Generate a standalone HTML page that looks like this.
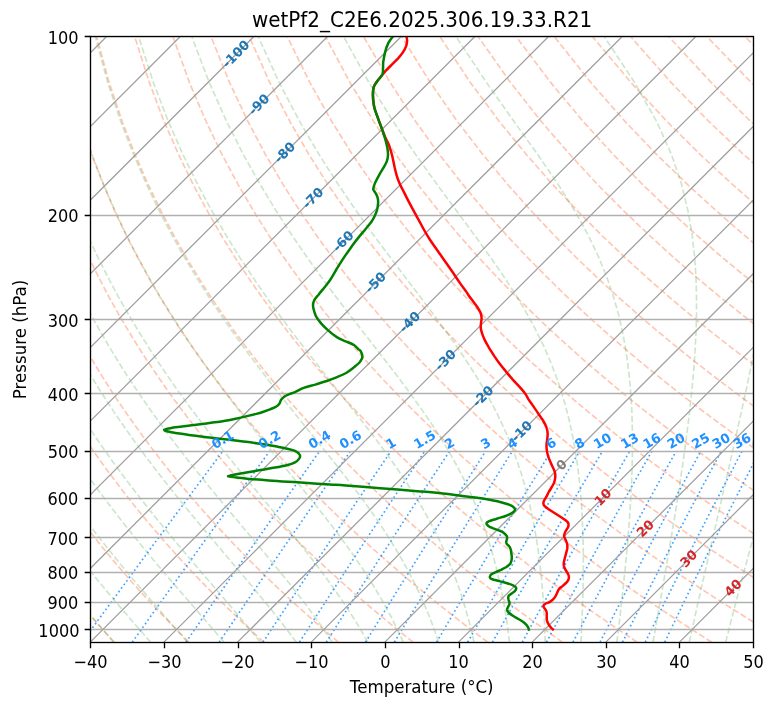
<!DOCTYPE html>
<html><head><meta charset="utf-8"><title>wetPf2_C2E6.2025.306.19.33.R21</title>
<style>html,body{margin:0;padding:0;background:#fff}svg{display:block}</style></head>
<body>
<svg width="775" height="708" viewBox="0 0 775 708">
<defs><clipPath id="c"><rect x="90.25" y="36.80" width="662.90" height="605.36"/></clipPath></defs>
<rect width="775" height="708" fill="#fff"/>
<g clip-path="url(#c)" fill="none">
<path d="M114.4 642.2L109.9 637.4L105.4 632.5L100.9 627.5L96.4 622.4L91.8 617.2L87.1 611.9L82.5 606.5L77.8 601.0L73.0 595.4L68.3 589.6L63.4 583.7L58.6 577.7L53.7 571.5L48.7 565.2L43.7 558.7L38.7 552.0L33.6 545.2L28.5 538.1L23.4 530.9L18.2 523.5L12.9 515.9L7.6 508.0L2.2 499.8L-3.1 491.4L-8.6 482.8L-14.1 473.8L-19.6 464.5L-25.2 454.8L-30.8 444.8L-36.5 434.3L-42.2 423.4L-48.0 412.1L-53.8 400.2L-59.6 387.7L-65.4 374.6L-71.3 360.8L-77.2 346.2L-83.1 330.8L-88.9 314.3L-94.7 296.8L-100.4 277.9L-106.0 257.6L-111.5 235.5L-116.7 211.3L-121.5 184.6L-125.8 154.8L-129.3 121.2L-131.6 82.4L-132.2 36.8M189.0 642.2L184.2 637.4L179.3 632.5L174.4 627.5L169.4 622.4L164.4 617.2L159.4 611.9L154.3 606.5L149.1 601.0L143.9 595.4L138.7 589.6L133.4 583.7L128.1 577.7L122.7 571.5L117.3 565.2L111.8 558.7L106.3 552.0L100.7 545.2L95.1 538.1L89.4 530.9L83.6 523.5L77.8 515.9L72.0 508.0L66.0 499.8L60.0 491.4L54.0 482.8L47.9 473.8L41.7 464.5L35.5 454.8L29.2 444.8L22.8 434.3L16.4 423.4L9.9 412.1L3.3 400.2L-3.3 387.7L-9.9 374.6L-16.7 360.8L-23.4 346.2L-30.2 330.8L-37.0 314.3L-43.8 296.8L-50.6 277.9L-57.3 257.6L-63.9 235.5L-70.4 211.3L-76.5 184.6L-82.3 154.8L-87.4 121.2L-91.5 82.4L-94.1 36.8M263.7 642.2L258.5 637.4L253.2 632.5L247.9 627.5L242.5 622.4L237.1 617.2L231.6 611.9L226.1 606.5L220.5 601.0L214.9 595.4L209.2 589.6L203.4 583.7L197.6 577.7L191.8 571.5L185.9 565.2L179.9 558.7L173.9 552.0L167.8 545.2L161.6 538.1L155.4 530.9L149.1 523.5L142.7 515.9L136.3 508.0L129.8 499.8L123.2 491.4L116.6 482.8L109.8 473.8L103.0 464.5L96.1 454.8L89.2 444.8L82.1 434.3L75.0 423.4L67.7 412.1L60.4 400.2L53.0 387.7L45.6 374.6L38.0 360.8L30.4 346.2L22.7 330.8L14.9 314.3L7.1 296.8L-0.7 277.9L-8.6 257.6L-16.4 235.5L-24.1 211.3L-31.6 184.6L-38.8 154.8L-45.5 121.2L-51.4 82.4L-55.9 36.8M338.4 642.2L332.8 637.4L327.1 632.5L321.4 627.5L315.6 622.4L309.7 617.2L303.8 611.9L297.9 606.5L291.8 601.0L285.8 595.4L279.6 589.6L273.4 583.7L267.2 577.7L260.8 571.5L254.4 565.2L248.0 558.7L241.5 552.0L234.8 545.2L228.2 538.1L221.4 530.9L214.6 523.5L207.7 515.9L200.7 508.0L193.6 499.8L186.4 491.4L179.1 482.8L171.8 473.8L164.3 464.5L156.8 454.8L149.2 444.8L141.4 434.3L133.6 423.4L125.6 412.1L117.5 400.2L109.3 387.7L101.1 374.6L92.7 360.8L84.2 346.2L75.5 330.8L66.8 314.3L58.0 296.8L49.1 277.9L40.2 257.6L31.2 235.5L22.3 211.3L13.4 184.6L4.7 154.8L-3.6 121.2L-11.2 82.4L-17.8 36.8M413.1 642.2L407.1 637.4L401.0 632.5L394.8 627.5L388.6 622.4L382.4 617.2L376.0 611.9L369.6 606.5L363.2 601.0L356.7 595.4L350.1 589.6L343.4 583.7L336.7 577.7L329.9 571.5L323.0 565.2L316.1 558.7L309.0 552.0L301.9 545.2L294.7 538.1L287.4 530.9L280.1 523.5L272.6 515.9L265.0 508.0L257.4 499.8L249.6 491.4L241.7 482.8L233.8 473.8L225.7 464.5L217.5 454.8L209.1 444.8L200.7 434.3L192.1 423.4L183.5 412.1L174.6 400.2L165.7 387.7L156.6 374.6L147.3 360.8L137.9 346.2L128.4 330.8L118.7 314.3L108.9 296.8L99.0 277.9L88.9 257.6L78.8 235.5L68.6 211.3L58.3 184.6L48.2 154.8L38.3 121.2L28.9 82.4L20.4 36.8M487.8 642.2L481.4 637.4L474.9 632.5L468.3 627.5L461.7 622.4L455.0 617.2L448.3 611.9L441.4 606.5L434.5 601.0L427.6 595.4L420.5 589.6L413.4 583.7L406.2 577.7L399.0 571.5L391.6 565.2L384.1 558.7L376.6 552.0L369.0 545.2L361.3 538.1L353.4 530.9L345.5 523.5L337.5 515.9L329.4 508.0L321.1 499.8L312.8 491.4L304.3 482.8L295.7 473.8L287.0 464.5L278.1 454.8L269.1 444.8L260.0 434.3L250.7 423.4L241.3 412.1L231.7 400.2L222.0 387.7L212.1 374.6L202.0 360.8L191.7 346.2L181.3 330.8L170.6 314.3L159.8 296.8L148.8 277.9L137.7 257.6L126.3 235.5L114.9 211.3L103.3 184.6L91.7 154.8L80.2 121.2L69.0 82.4L58.5 36.8M562.5 642.2L555.7 637.4L548.8 632.5L541.8 627.5L534.8 622.4L527.7 617.2L520.5 611.9L513.2 606.5L505.9 601.0L498.5 595.4L491.0 589.6L483.4 583.7L475.8 577.7L468.0 571.5L460.2 565.2L452.2 558.7L444.2 552.0L436.0 545.2L427.8 538.1L419.5 530.9L411.0 523.5L402.4 515.9L393.7 508.0L384.9 499.8L376.0 491.4L366.9 482.8L357.7 473.8L348.3 464.5L338.8 454.8L329.1 444.8L319.3 434.3L309.3 423.4L299.2 412.1L288.8 400.2L278.3 387.7L267.6 374.6L256.6 360.8L245.5 346.2L234.1 330.8L222.6 314.3L210.7 296.8L198.7 277.9L186.4 257.6L173.9 235.5L161.2 211.3L148.2 184.6L135.2 154.8L122.1 121.2L109.1 82.4L96.7 36.8M637.2 642.2L630.0 637.4L622.7 632.5L615.3 627.5L607.8 622.4L600.3 617.2L592.7 611.9L585.0 606.5L577.3 601.0L569.4 595.4L561.5 589.6L553.4 583.7L545.3 577.7L537.1 571.5L528.7 565.2L520.3 558.7L511.8 552.0L503.1 545.2L494.4 538.1L485.5 530.9L476.5 523.5L467.3 515.9L458.1 508.0L448.7 499.8L439.1 491.4L429.5 482.8L419.6 473.8L409.6 464.5L399.5 454.8L389.1 444.8L378.6 434.3L367.9 423.4L357.0 412.1L345.9 400.2L334.6 387.7L323.1 374.6L311.3 360.8L299.3 346.2L287.0 330.8L274.5 314.3L261.6 296.8L248.5 277.9L235.1 257.6L221.4 235.5L207.5 211.3L193.2 184.6L178.7 154.8L164.0 121.2L149.3 82.4L134.8 36.8M711.9 642.2L704.2 637.4L696.5 632.5L688.8 627.5L680.9 622.4L673.0 617.2L664.9 611.9L656.8 606.5L648.6 601.0L640.3 595.4L631.9 589.6L623.4 583.7L614.8 577.7L606.1 571.5L597.3 565.2L588.4 558.7L579.3 552.0L570.2 545.2L560.9 538.1L551.5 530.9L541.9 523.5L532.3 515.9L522.4 508.0L512.5 499.8L502.3 491.4L492.0 482.8L481.6 473.8L471.0 464.5L460.1 454.8L449.1 444.8L437.9 434.3L426.5 423.4L414.9 412.1L403.0 400.2L390.9 387.7L378.6 374.6L366.0 360.8L353.1 346.2L339.9 330.8L326.4 314.3L312.6 296.8L298.4 277.9L283.9 257.6L269.0 235.5L253.8 211.3L238.1 184.6L222.2 154.8L205.9 121.2L189.4 82.4L173.0 36.8M776.0 635.8L770.4 632.5L762.3 627.5L754.0 622.4L745.6 617.2L737.2 611.9L728.6 606.5L720.0 601.0L711.2 595.4L702.4 589.6L693.4 583.7L684.4 577.7L675.2 571.5L665.9 565.2L656.5 558.7L646.9 552.0L637.3 545.2L627.4 538.1L617.5 530.9L607.4 523.5L597.2 515.9L586.8 508.0L576.2 499.8L565.5 491.4L554.6 482.8L543.5 473.8L532.3 464.5L520.8 454.8L509.1 444.8L497.2 434.3L485.1 423.4L472.7 412.1L460.1 400.2L447.2 387.7L434.1 374.6L420.6 360.8L406.8 346.2L392.7 330.8L378.3 314.3L363.5 296.8L348.2 277.9L332.6 257.6L316.6 235.5L300.1 211.3L283.1 184.6L265.6 154.8L247.8 121.2L229.5 82.4L211.1 36.8M776.0 591.6L772.8 589.6L763.4 583.7L753.9 577.7L744.2 571.5L734.5 565.2L724.5 558.7L714.5 552.0L704.3 545.2L694.0 538.1L683.5 530.9L672.9 523.5L662.1 515.9L651.1 508.0L640.0 499.8L628.7 491.4L617.2 482.8L605.5 473.8L593.6 464.5L581.5 454.8L569.1 444.8L556.5 434.3L543.7 423.4L530.6 412.1L517.2 400.2L503.6 387.7L489.6 374.6L475.3 360.8L460.6 346.2L445.6 330.8L430.2 314.3L414.4 296.8L398.1 277.9L381.4 257.6L364.1 235.5L346.4 211.3L328.0 184.6L309.1 154.8L289.7 121.2L269.7 82.4L249.3 36.8M776.0 548.1L771.4 545.2L760.5 538.1L749.5 530.9L738.4 523.5L727.0 515.9L715.5 508.0L703.8 499.8L691.9 491.4L679.8 482.8L667.5 473.8L654.9 464.5L642.1 454.8L629.1 444.8L615.8 434.3L602.3 423.4L588.5 412.1L574.3 400.2L559.9 387.7L545.1 374.6L529.9 360.8L514.4 346.2L498.5 330.8L482.1 314.3L465.3 296.8L448.0 277.9L430.1 257.6L411.7 235.5L392.7 211.3L373.0 184.6L352.6 154.8L331.6 121.2L309.8 82.4L287.4 36.8M776.0 505.4L767.6 499.8L755.1 491.4L742.4 482.8L729.4 473.8L716.2 464.5L702.8 454.8L689.1 444.8L675.1 434.3L660.9 423.4L646.3 412.1L631.4 400.2L616.2 387.7L600.6 374.6L584.6 360.8L568.2 346.2L551.3 330.8L534.0 314.3L516.2 296.8L497.8 277.9L478.8 257.6L459.2 235.5L439.0 211.3L417.9 184.6L396.1 154.8L373.5 121.2L349.9 82.4L325.6 36.8M776.0 463.4L763.5 454.8L749.1 444.8L734.4 434.3L719.5 423.4L704.2 412.1L688.5 400.2L672.5 387.7L656.1 374.6L639.2 360.8L622.0 346.2L604.2 330.8L585.9 314.3L567.1 296.8L547.7 277.9L527.6 257.6L506.8 235.5L485.3 211.3L462.9 184.6L439.6 154.8L415.4 121.2L390.1 82.4L363.7 36.8M776.0 422.0L762.0 412.1L745.6 400.2L728.8 387.7L711.6 374.6L693.9 360.8L675.7 346.2L657.1 330.8L637.8 314.3L618.0 296.8L597.5 277.9L576.3 257.6L554.4 235.5L531.6 211.3L507.8 184.6L483.1 154.8L457.2 121.2L430.2 82.4L401.9 36.8M776.0 381.1L767.1 374.6L748.6 360.8L729.5 346.2L709.9 330.8L689.7 314.3L668.9 296.8L647.4 277.9L625.1 257.6L601.9 235.5L577.9 211.3L552.8 184.6L526.6 154.8L499.1 121.2L470.3 82.4L440.0 36.8M776.0 340.7L762.8 330.8L741.7 314.3L719.8 296.8L697.2 277.9L673.8 257.6L649.5 235.5L624.2 211.3L597.7 184.6L570.1 154.8L541.0 121.2L510.5 82.4L478.2 36.8M776.0 300.8L770.7 296.8L747.1 277.9L722.5 257.6L697.0 235.5L670.5 211.3L642.7 184.6L613.6 154.8L582.9 121.2L550.6 82.4L516.3 36.8M776.0 261.3L771.3 257.6L744.6 235.5L716.8 211.3L687.6 184.6L657.0 154.8L624.8 121.2L590.7 82.4L554.5 36.8M776.0 222.0L763.1 211.3L732.6 184.6L700.5 154.8L666.7 121.2L630.9 82.4L592.6 36.8M776.0 183.2L744.0 154.8L708.6 121.2L671.0 82.4L630.8 36.8M776.0 144.4L750.5 121.2L711.1 82.4L668.9 36.8M776.0 105.7L751.2 82.4L707.1 36.8M776.0 67.2L745.2 36.8" stroke="#ff4500" stroke-opacity="0.3" stroke-width="1.67" stroke-dasharray="6.17 2.67"/>
<path d="M113.7 642.2L109.5 637.4L105.3 632.5L101.0 627.5L96.7 622.4L92.3 617.2L87.8 611.9L83.3 606.5L78.7 601.0L74.1 595.4L69.5 589.6L64.7 583.7L60.0 577.7L55.1 571.5L50.3 565.2L45.3 558.7L40.4 552.0L35.3 545.2L30.2 538.1L25.1 530.9L19.9 523.5L14.7 515.9L9.4 508.0L4.0 499.8L-1.4 491.4L-6.8 482.8L-12.3 473.8L-17.9 464.5L-23.5 454.8L-29.1 444.8L-34.8 434.3L-40.5 423.4L-46.3 412.1L-52.1 400.2L-58.0 387.7L-63.9 374.6L-69.7 360.8L-75.6 346.2L-81.5 330.8L-87.4 314.3L-93.2 296.8L-99.0 277.9L-104.6 257.6L-110.1 235.5L-115.3 211.3L-120.2 184.6L-124.5 154.8L-128.1 121.2L-130.5 82.4L-131.1 36.8M150.7 642.2L146.4 637.4L142.2 632.5L137.8 627.5L133.4 622.4L128.9 617.2L124.3 611.9L119.7 606.5L115.0 601.0L110.3 595.4L105.5 589.6L100.6 583.7L95.6 577.7L90.6 571.5L85.5 565.2L80.4 558.7L75.2 552.0L69.9 545.2L64.6 538.1L59.2 530.9L53.8 523.5L48.3 515.9L42.7 508.0L37.1 499.8L31.4 491.4L25.6 482.8L19.8 473.8L14.0 464.5L8.0 454.8L2.0 444.8L-4.0 434.3L-10.1 423.4L-16.3 412.1L-22.5 400.2L-28.7 387.7L-35.0 374.6L-41.4 360.8L-47.7 346.2L-54.1 330.8L-60.4 314.3L-66.8 296.8L-73.1 277.9L-79.3 257.6L-85.4 235.5L-91.3 211.3L-96.8 184.6L-101.9 154.8L-106.3 121.2L-109.6 82.4L-111.3 36.8M187.4 642.2L183.3 637.4L179.0 632.5L174.6 627.5L170.2 622.4L165.7 617.2L161.1 611.9L156.4 606.5L151.6 601.0L146.8 595.4L141.8 589.6L136.8 583.7L131.7 577.7L126.6 571.5L121.3 565.2L116.0 558.7L110.6 552.0L105.2 545.2L99.6 538.1L94.0 530.9L88.3 523.5L82.5 515.9L76.7 508.0L70.8 499.8L64.8 491.4L58.8 482.8L52.6 473.8L46.4 464.5L40.2 454.8L33.8 444.8L27.4 434.3L21.0 423.4L14.4 412.1L7.8 400.2L1.2 387.7L-5.6 374.6L-12.3 360.8L-19.2 346.2L-26.0 330.8L-32.9 314.3L-39.8 296.8L-46.6 277.9L-53.5 257.6L-60.2 235.5L-66.7 211.3L-73.0 184.6L-78.8 154.8L-84.1 121.2L-88.3 82.4L-91.0 36.8M224.0 642.2L219.9 637.4L215.8 632.5L211.5 627.5L207.1 622.4L202.6 617.2L198.0 611.9L193.4 606.5L188.6 601.0L183.7 595.4L178.7 589.6L173.7 583.7L168.5 577.7L163.2 571.5L157.9 565.2L152.4 558.7L146.9 552.0L141.2 545.2L135.5 538.1L129.7 530.9L123.8 523.5L117.8 515.9L111.7 508.0L105.5 499.8L99.2 491.4L92.9 482.8L86.4 473.8L79.9 464.5L73.3 454.8L66.6 444.8L59.9 434.3L53.0 423.4L46.1 412.1L39.1 400.2L32.0 387.7L24.8 374.6L17.6 360.8L10.3 346.2L2.9 330.8L-4.5 314.3L-11.9 296.8L-19.4 277.9L-26.8 257.6L-34.1 235.5L-41.4 211.3L-48.4 184.6L-55.0 154.8L-61.1 121.2L-66.4 82.4L-70.2 36.8M260.4 642.2L256.5 637.4L252.5 632.5L248.4 627.5L244.2 622.4L239.8 617.2L235.4 611.9L230.8 606.5L226.1 601.0L221.3 595.4L216.3 589.6L211.3 583.7L206.1 577.7L200.8 571.5L195.4 565.2L189.9 558.7L184.2 552.0L178.5 545.2L172.6 538.1L166.6 530.9L160.5 523.5L154.3 515.9L148.0 508.0L141.6 499.8L135.0 491.4L128.4 482.8L121.7 473.8L114.8 464.5L107.9 454.8L100.8 444.8L93.7 434.3L86.5 423.4L79.1 412.1L71.7 400.2L64.1 387.7L56.5 374.6L48.8 360.8L41.0 346.2L33.1 330.8L25.2 314.3L17.2 296.8L9.1 277.9L1.1 257.6L-6.9 235.5L-14.9 211.3L-22.7 184.6L-30.2 154.8L-37.2 121.2L-43.4 82.4L-48.4 36.8M296.4 642.2L292.8 637.4L289.1 632.5L285.3 627.5L281.4 622.4L277.3 617.2L273.1 611.9L268.7 606.5L264.2 601.0L259.6 595.4L254.8 589.6L249.9 583.7L244.8 577.7L239.6 571.5L234.2 565.2L228.7 558.7L223.1 552.0L217.3 545.2L211.3 538.1L205.2 530.9L199.0 523.5L192.7 515.9L186.2 508.0L179.5 499.8L172.8 491.4L165.9 482.8L158.9 473.8L151.7 464.5L144.4 454.8L137.0 444.8L129.5 434.3L121.9 423.4L114.1 412.1L106.3 400.2L98.3 387.7L90.2 374.6L82.0 360.8L73.6 346.2L65.2 330.8L56.7 314.3L48.1 296.8L39.4 277.9L30.7 257.6L21.9 235.5L13.2 211.3L4.6 184.6L-3.8 154.8L-11.8 121.2L-19.1 82.4L-25.2 36.8M332.2 642.2L329.0 637.4L325.7 632.5L322.3 627.5L318.7 622.4L315.0 617.2L311.2 611.9L307.2 606.5L303.0 601.0L298.7 595.4L294.2 589.6L289.6 583.7L284.7 577.7L279.7 571.5L274.6 565.2L269.2 558.7L263.7 552.0L258.0 545.2L252.1 538.1L246.0 530.9L239.8 523.5L233.4 515.9L226.8 508.0L220.0 499.8L213.1 491.4L206.0 482.8L198.8 473.8L191.3 464.5L183.8 454.8L176.0 444.8L168.2 434.3L160.1 423.4L151.9 412.1L143.6 400.2L135.1 387.7L126.5 374.6L117.8 360.8L108.9 346.2L99.9 330.8L90.7 314.3L81.5 296.8L72.1 277.9L62.6 257.6L53.1 235.5L43.6 211.3L34.1 184.6L24.8 154.8L15.7 121.2L7.3 82.4L-0.2 36.8M367.8 642.2L365.1 637.4L362.3 632.5L359.3 627.5L356.3 622.4L353.0 617.2L349.7 611.9L346.2 606.5L342.5 601.0L338.6 595.4L334.6 589.6L330.4 583.7L326.0 577.7L321.4 571.5L316.6 565.2L311.6 558.7L306.4 552.0L301.0 545.2L295.3 538.1L289.5 530.9L283.4 523.5L277.1 515.9L270.6 508.0L263.8 499.8L256.8 491.4L249.6 482.8L242.2 473.8L234.6 464.5L226.8 454.8L218.8 444.8L210.6 434.3L202.2 423.4L193.6 412.1L184.8 400.2L175.8 387.7L166.7 374.6L157.4 360.8L147.9 346.2L138.2 330.8L128.4 314.3L118.4 296.8L108.3 277.9L98.0 257.6L87.6 235.5L77.2 211.3L66.7 184.6L56.3 154.8L46.1 121.2L36.4 82.4L27.5 36.8M403.2 642.2L401.1 637.4L398.8 632.5L396.4 627.5L393.9 622.4L391.3 617.2L388.5 611.9L385.5 606.5L382.5 601.0L379.2 595.4L375.8 589.6L372.2 583.7L368.4 577.7L364.4 571.5L360.2 565.2L355.8 558.7L351.1 552.0L346.2 545.2L341.1 538.1L335.7 530.9L330.0 523.5L324.1 515.9L317.9 508.0L311.4 499.8L304.6 491.4L297.5 482.8L290.2 473.8L282.5 464.5L274.6 454.8L266.5 444.8L258.0 434.3L249.3 423.4L240.3 412.1L231.1 400.2L221.7 387.7L212.0 374.6L202.1 360.8L191.9 346.2L181.6 330.8L171.0 314.3L160.2 296.8L149.2 277.9L138.1 257.6L126.7 235.5L115.2 211.3L103.7 184.6L92.1 154.8L80.6 121.2L69.4 82.4L58.9 36.8M438.6 642.2L437.0 637.4L435.3 632.5L433.5 627.5L431.6 622.4L429.6 617.2L427.4 611.9L425.2 606.5L422.8 601.0L420.2 595.4L417.6 589.6L414.7 583.7L411.7 577.7L408.5 571.5L405.0 565.2L401.4 558.7L397.5 552.0L393.4 545.2L389.1 538.1L384.4 530.9L379.5 523.5L374.3 515.9L368.7 508.0L362.9 499.8L356.6 491.4L350.1 482.8L343.1 473.8L335.8 464.5L328.1 454.8L320.1 444.8L311.6 434.3L302.8 423.4L293.7 412.1L284.2 400.2L274.3 387.7L264.2 374.6L253.7 360.8L242.9 346.2L231.8 330.8L220.4 314.3L208.7 296.8L196.8 277.9L184.6 257.6L172.1 235.5L159.4 211.3L146.6 184.6L133.6 154.8L120.6 121.2L107.7 82.4L95.3 36.8M474.0 642.2L472.9 637.4L471.8 632.5L470.6 627.5L469.3 622.4L467.9 617.2L466.4 611.9L464.8 606.5L463.2 601.0L461.4 595.4L459.5 589.6L457.4 583.7L455.3 577.7L452.9 571.5L450.4 565.2L447.7 558.7L444.8 552.0L441.7 545.2L438.4 538.1L434.8 530.9L430.9 523.5L426.8 515.9L422.3 508.0L417.5 499.8L412.3 491.4L406.7 482.8L400.7 473.8L394.3 464.5L387.4 454.8L380.0 444.8L372.1 434.3L363.7 423.4L354.9 412.1L345.5 400.2L335.5 387.7L325.1 374.6L314.3 360.8L302.9 346.2L291.1 330.8L278.9 314.3L266.3 296.8L253.3 277.9L239.9 257.6L226.2 235.5L212.1 211.3L197.7 184.6L183.1 154.8L168.2 121.2L153.3 82.4L138.7 36.8M509.5 642.2L508.9 637.4L508.3 632.5L507.6 627.5L506.9 622.4L506.1 617.2L505.3 611.9L504.4 606.5L503.4 601.0L502.3 595.4L501.2 589.6L500.0 583.7L498.6 577.7L497.2 571.5L495.6 565.2L493.9 558.7L492.0 552.0L490.0 545.2L487.8 538.1L485.4 530.9L482.8 523.5L480.0 515.9L476.8 508.0L473.4 499.8L469.7 491.4L465.6 482.8L461.1 473.8L456.2 464.5L450.8 454.8L444.8 444.8L438.4 434.3L431.3 423.4L423.5 412.1L415.1 400.2L406.0 387.7L396.1 374.6L385.5 360.8L374.2 346.2L362.1 330.8L349.4 314.3L335.9 296.8L321.9 277.9L307.3 257.6L292.1 235.5L276.4 211.3L260.2 184.6L243.5 154.8L226.5 121.2L209.2 82.4L191.8 36.8M545.1 642.2L545.0 637.4L544.8 632.5L544.7 627.5L544.5 622.4L544.2 617.2L543.9 611.9L543.6 606.5L543.3 601.0L542.9 595.4L542.4 589.6L541.9 583.7L541.4 577.7L540.7 571.5L540.0 565.2L539.2 558.7L538.4 552.0L537.4 545.2L536.3 538.1L535.0 530.9L533.7 523.5L532.1 515.9L530.4 508.0L528.5 499.8L526.4 491.4L524.0 482.8L521.3 473.8L518.2 464.5L514.8 454.8L511.0 444.8L506.7 434.3L501.8 423.4L496.3 412.1L490.1 400.2L483.1 387.7L475.2 374.6L466.4 360.8L456.5 346.2L445.5 330.8L433.4 314.3L420.2 296.8L405.8 277.9L390.4 257.6L373.9 235.5L356.5 211.3L338.3 184.6L319.2 154.8L299.5 121.2L279.1 82.4L258.3 36.8M580.9 642.2L581.2 637.4L581.4 632.5L581.7 627.5L581.9 622.4L582.1 617.2L582.3 611.9L582.5 606.5L582.7 601.0L582.9 595.4L583.0 589.6L583.2 583.7L583.3 577.7L583.3 571.5L583.4 565.2L583.3 558.7L583.3 552.0L583.2 545.2L583.0 538.1L582.8 530.9L582.5 523.5L582.2 515.9L581.7 508.0L581.1 499.8L580.4 491.4L579.6 482.8L578.6 473.8L577.4 464.5L575.9 454.8L574.3 444.8L572.3 434.3L569.9 423.4L567.2 412.1L563.9 400.2L560.1 387.7L555.5 374.6L550.1 360.8L543.8 346.2L536.2 330.8L527.3 314.3L516.9 296.8L504.8 277.9L490.7 257.6L474.8 235.5L456.9 211.3L437.2 184.6L415.8 154.8L393.0 121.2L368.9 82.4L343.7 36.8M616.9 642.2L617.5 637.4L618.1 632.5L618.7 627.5L619.3 622.4L619.9 617.2L620.5 611.9L621.1 606.5L621.7 601.0L622.3 595.4L623.0 589.6L623.6 583.7L624.2 577.7L624.9 571.5L625.5 565.2L626.1 558.7L626.7 552.0L627.4 545.2L628.0 538.1L628.5 530.9L629.1 523.5L629.7 515.9L630.2 508.0L630.7 499.8L631.1 491.4L631.6 482.8L631.9 473.8L632.2 464.5L632.4 454.8L632.5 444.8L632.4 434.3L632.2 423.4L631.9 412.1L631.2 400.2L630.4 387.7L629.1 374.6L627.4 360.8L625.2 346.2L622.3 330.8L618.5 314.3L613.5 296.8L607.1 277.9L598.9 257.6L588.4 235.5L575.0 211.3L558.3 184.6L537.9 154.8L513.8 121.2L486.4 82.4L456.2 36.8M653.0 642.2L653.9 637.4L654.7 632.5L655.6 627.5L656.5 622.4L657.4 617.2L658.4 611.9L659.3 606.5L660.3 601.0L661.3 595.4L662.3 589.6L663.3 583.7L664.4 577.7L665.4 571.5L666.5 565.2L667.6 558.7L668.8 552.0L669.9 545.2L671.1 538.1L672.3 530.9L673.5 523.5L674.8 515.9L676.1 508.0L677.3 499.8L678.7 491.4L680.0 482.8L681.3 473.8L682.7 464.5L684.1 454.8L685.4 444.8L686.8 434.3L688.2 423.4L689.5 412.1L690.8 400.2L692.1 387.7L693.3 374.6L694.4 360.8L695.3 346.2L696.1 330.8L696.5 314.3L696.5 296.8L696.0 277.9L694.7 257.6L692.2 235.5L688.1 211.3L681.6 184.6L671.6 154.8L656.5 121.2L634.5 82.4L604.4 36.8M689.3 642.2L690.3 637.4L691.4 632.5L692.5 627.5L693.7 622.4L694.8 617.2L696.0 611.9L697.2 606.5L698.4 601.0L699.7 595.4L701.0 589.6L702.3 583.7L703.7 577.7L705.1 571.5L706.6 565.2L708.0 558.7L709.6 552.0L711.1 545.2L712.7 538.1L714.4 530.9L716.1 523.5L717.8 515.9L719.7 508.0L721.5 499.8L723.4 491.4L725.4 482.8L727.5 473.8L729.6 464.5L731.8 454.8L734.0 444.8L736.4 434.3L738.8 423.4L741.3 412.1L743.9 400.2L746.6 387.7L749.4 374.6L752.2 360.8L755.2 346.2L758.3 330.8L761.4 314.3L764.6 296.8L767.8 277.9L771.0 257.6L774.1 235.5L776.9 211.3L779.3 184.6L780.7 154.8L780.5 121.2L777.0 82.4L767.3 36.8M725.7 642.2L726.9 637.4L728.2 632.5L729.4 627.5L730.7 622.4L732.1 617.2L733.4 611.9L734.8 606.5L736.3 601.0L737.7 595.4L739.3 589.6L740.8 583.7L742.4 577.7L744.1 571.5L745.8 565.2L747.5 558.7L749.3 552.0L751.2 545.2L753.1 538.1L755.1 530.9L757.1 523.5L759.2 515.9L761.4 508.0L763.7 499.8L766.0 491.4L768.5 482.8L771.0 473.8L773.6 464.5L776.4 454.8L779.2 444.8L782.2 434.3L785.3 423.4L788.6 412.1L792.0 400.2L795.6 387.7L799.4 374.6L803.4 360.8L807.6 346.2L812.0 330.8L816.8 314.3L821.8 296.8L827.2 277.9L832.9 257.6L839.0 235.5L845.6 211.3L852.7 184.6L860.2 154.8L868.3 121.2L876.7 82.4L884.9 36.8M762.2 642.2L763.5 637.4L764.9 632.5L766.3 627.5L767.7 622.4L769.2 617.2L770.7 611.9L772.2 606.5L773.8 601.0L775.5 595.4L777.1 589.6L778.8 583.7L780.6 577.7L782.4 571.5L784.3 565.2L786.3 558.7L788.2 552.0L790.3 545.2L792.4 538.1L794.6 530.9L796.9 523.5L799.3 515.9L801.7 508.0L804.3 499.8L806.9 491.4L809.7 482.8L812.5 473.8L815.5 464.5L818.6 454.8L821.8 444.8L825.2 434.3L828.8 423.4L832.6 412.1L836.5 400.2L840.7 387.7L845.1 374.6L849.8 360.8L854.7 346.2L860.0 330.8L865.7 314.3L871.8 296.8L878.4 277.9L885.5 257.6L893.3 235.5L901.9 211.3L911.3 184.6L921.9 154.8L933.9 121.2L947.5 82.4L963.4 36.8" stroke="#008000" stroke-opacity="0.2" stroke-width="1.67" stroke-dasharray="6.17 2.67"/>
<path d="M82.1 642.2L85.5 637.5L89.0 632.7L92.5 627.8L96.1 622.9L99.8 617.8L103.6 612.6L107.4 607.4L111.4 602.0L115.4 596.5L119.5 590.9L123.7 585.1L128.0 579.3L132.4 573.3L137.0 567.1L141.6 560.8L146.3 554.3L151.2 547.7L156.2 540.9L161.4 533.9L166.7 526.8L172.1 519.4L177.8 511.8L183.6 503.9L189.6 495.9L195.7 487.5L202.2 478.9L208.8 470.0L215.7 460.7L222.8 451.1M132.3 642.2L135.6 637.5L139.0 632.7L142.5 627.8L146.0 622.9L149.6 617.8L153.3 612.6L157.0 607.4L160.9 602.0L164.8 596.5L168.8 590.9L172.9 585.1L177.1 579.3L181.4 573.3L185.8 567.1L190.3 560.8L195.0 554.3L199.7 547.7L204.6 540.9L209.6 533.9L214.8 526.8L220.2 519.4L225.6 511.8L231.3 503.9L237.2 495.9L243.2 487.5L249.5 478.9L255.9 470.0L262.7 460.7L269.7 451.1M186.0 642.2L189.2 637.5L192.5 632.7L195.9 627.8L199.3 622.9L202.8 617.8L206.4 612.6L210.0 607.4L213.8 602.0L217.6 596.5L221.5 590.9L225.5 585.1L229.5 579.3L233.7 573.3L238.0 567.1L242.4 560.8L246.9 554.3L251.5 547.7L256.3 540.9L261.2 533.9L266.2 526.8L271.4 519.4L276.8 511.8L282.3 503.9L288.0 495.9L293.9 487.5L300.0 478.9L306.3 470.0L312.8 460.7L319.6 451.1M219.2 642.2L222.4 637.5L225.6 632.7L228.9 627.8L232.3 622.9L235.7 617.8L239.2 612.6L242.8 607.4L246.4 602.0L250.2 596.5L254.0 590.9L257.9 585.1L261.9 579.3L266.0 573.3L270.2 567.1L274.6 560.8L279.0 554.3L283.5 547.7L288.2 540.9L293.0 533.9L298.0 526.8L303.1 519.4L308.3 511.8L313.7 503.9L319.3 495.9L325.1 487.5L331.1 478.9L337.3 470.0L343.8 460.7L350.5 451.1M263.0 642.2L266.1 637.5L269.2 632.7L272.4 627.8L275.7 622.9L279.1 617.8L282.5 612.6L286.0 607.4L289.5 602.0L293.2 596.5L296.9 590.9L300.7 585.1L304.6 579.3L308.6 573.3L312.7 567.1L317.0 560.8L321.3 554.3L325.7 547.7L330.3 540.9L335.0 533.9L339.8 526.8L344.8 519.4L349.9 511.8L355.2 503.9L360.7 495.9L366.3 487.5L372.2 478.9L378.2 470.0L384.5 460.7L391.1 451.1M299.5 642.2L302.5 637.5L305.6 632.7L308.7 627.8L311.9 622.9L315.2 617.8L318.5 612.6L321.9 607.4L325.4 602.0L329.0 596.5L332.6 590.9L336.3 585.1L340.2 579.3L344.1 573.3L348.1 567.1L352.2 560.8L356.4 554.3L360.8 547.7L365.3 540.9L369.8 533.9L374.6 526.8L379.4 519.4L384.5 511.8L389.6 503.9L395.0 495.9L400.5 487.5L406.3 478.9L412.2 470.0L418.4 460.7L424.8 451.1M326.3 642.2L329.3 637.5L332.3 632.7L335.4 627.8L338.5 622.9L341.7 617.8L345.0 612.6L348.3 607.4L351.8 602.0L355.3 596.5L358.9 590.9L362.5 585.1L366.3 579.3L370.1 573.3L374.1 567.1L378.1 560.8L382.3 554.3L386.6 547.7L391.0 540.9L395.5 533.9L400.1 526.8L404.9 519.4L409.9 511.8L415.0 503.9L420.2 495.9L425.7 487.5L431.3 478.9L437.2 470.0L443.3 460.7L449.6 451.1M365.5 642.2L368.4 637.5L371.3 632.7L374.3 627.8L377.4 622.9L380.5 617.8L383.7 612.6L387.0 607.4L390.3 602.0L393.7 596.5L397.2 590.9L400.8 585.1L404.5 579.3L408.2 573.3L412.1 567.1L416.0 560.8L420.1 554.3L424.3 547.7L428.5 540.9L432.9 533.9L437.5 526.8L442.2 519.4L447.0 511.8L452.0 503.9L457.1 495.9L462.4 487.5L468.0 478.9L473.7 470.0L479.6 460.7L485.8 451.1M394.4 642.2L397.2 637.5L400.1 632.7L403.0 627.8L406.0 622.9L409.1 617.8L412.2 612.6L415.4 607.4L418.7 602.0L422.0 596.5L425.5 590.9L429.0 585.1L432.6 579.3L436.3 573.3L440.0 567.1L443.9 560.8L447.9 554.3L452.0 547.7L456.2 540.9L460.5 533.9L465.0 526.8L469.5 519.4L474.3 511.8L479.2 503.9L484.2 495.9L489.5 487.5L494.9 478.9L500.5 470.0L506.3 460.7L512.4 451.1M436.6 642.2L439.4 637.5L442.2 632.7L445.0 627.8L447.9 622.9L450.9 617.8L453.9 612.6L457.0 607.4L460.2 602.0L463.4 596.5L466.8 590.9L470.2 585.1L473.6 579.3L477.2 573.3L480.9 567.1L484.6 560.8L488.5 554.3L492.5 547.7L496.6 540.9L500.8 533.9L505.1 526.8L509.6 519.4L514.2 511.8L518.9 503.9L523.8 495.9L528.9 487.5L534.2 478.9L539.6 470.0L545.3 460.7L551.2 451.1M467.7 642.2L470.4 637.5L473.1 632.7L475.9 627.8L478.7 622.9L481.6 617.8L484.6 612.6L487.6 607.4L490.7 602.0L493.9 596.5L497.1 590.9L500.4 585.1L503.9 579.3L507.3 573.3L510.9 567.1L514.6 560.8L518.4 554.3L522.3 547.7L526.3 540.9L530.4 533.9L534.6 526.8L539.0 519.4L543.5 511.8L548.1 503.9L552.9 495.9L557.9 487.5L563.1 478.9L568.4 470.0L574.0 460.7L579.8 451.1M492.5 642.2L495.1 637.5L497.8 632.7L500.5 627.8L503.3 622.9L506.1 617.8L509.0 612.6L512.0 607.4L515.0 602.0L518.1 596.5L521.3 590.9L524.6 585.1L527.9 579.3L531.3 573.3L534.8 567.1L538.5 560.8L542.2 554.3L546.0 547.7L549.9 540.9L553.9 533.9L558.1 526.8L562.4 519.4L566.8 511.8L571.4 503.9L576.1 495.9L581.0 487.5L586.1 478.9L591.3 470.0L596.8 460.7L602.5 451.1M522.3 642.2L524.9 637.5L527.5 632.7L530.1 627.8L532.8 622.9L535.6 617.8L538.4 612.6L541.3 607.4L544.3 602.0L547.3 596.5L550.4 590.9L553.6 585.1L556.9 579.3L560.2 573.3L563.7 567.1L567.2 560.8L570.8 554.3L574.5 547.7L578.4 540.9L582.3 533.9L586.4 526.8L590.6 519.4L594.9 511.8L599.4 503.9L604.0 495.9L608.8 487.5L613.7 478.9L618.9 470.0L624.2 460.7L629.8 451.1M546.5 642.2L549.0 637.5L551.5 632.7L554.1 627.8L556.8 622.9L559.5 617.8L562.3 612.6L565.1 607.4L568.0 602.0L571.0 596.5L574.0 590.9L577.2 585.1L580.3 579.3L583.6 573.3L587.0 567.1L590.5 560.8L594.0 554.3L597.7 547.7L601.4 540.9L605.3 533.9L609.3 526.8L613.4 519.4L617.6 511.8L622.0 503.9L626.6 495.9L631.3 487.5L636.1 478.9L641.2 470.0L646.5 460.7L651.9 451.1M573.0 642.2L575.4 637.5L577.9 632.7L580.5 627.8L583.1 622.9L585.7 617.8L588.4 612.6L591.2 607.4L594.0 602.0L596.9 596.5L599.9 590.9L603.0 585.1L606.1 579.3L609.3 573.3L612.6 567.1L616.0 560.8L619.4 554.3L623.0 547.7L626.7 540.9L630.5 533.9L634.4 526.8L638.4 519.4L642.6 511.8L646.9 503.9L651.3 495.9L655.9 487.5L660.7 478.9L665.6 470.0L670.8 460.7L676.2 451.1M600.1 642.2L602.4 637.5L604.9 632.7L607.3 627.8L609.9 622.9L612.4 617.8L615.1 612.6L617.8 607.4L620.6 602.0L623.4 596.5L626.3 590.9L629.3 585.1L632.3 579.3L635.4 573.3L638.7 567.1L642.0 560.8L645.4 554.3L648.8 547.7L652.4 540.9L656.1 533.9L660.0 526.8L663.9 519.4L668.0 511.8L672.2 503.9L676.5 495.9L681.0 487.5L685.7 478.9L690.5 470.0L695.6 460.7L700.8 451.1M622.5 642.2L624.9 637.5L627.2 632.7L629.6 627.8L632.1 622.9L634.7 617.8L637.2 612.6L639.9 607.4L642.6 602.0L645.4 596.5L648.2 590.9L651.1 585.1L654.1 579.3L657.2 573.3L660.3 567.1L663.6 560.8L666.9 554.3L670.3 547.7L673.8 540.9L677.5 533.9L681.2 526.8L685.1 519.4L689.1 511.8L693.2 503.9L697.5 495.9L701.9 487.5L706.5 478.9L711.2 470.0L716.2 460.7L721.3 451.1M645.3 642.2L647.6 637.5L649.9 632.7L652.3 627.8L654.7 622.9L657.2 617.8L659.7 612.6L662.3 607.4L664.9 602.0L667.7 596.5L670.4 590.9L673.3 585.1L676.2 579.3L679.2 573.3L682.3 567.1L685.5 560.8L688.7 554.3L692.1 547.7L695.5 540.9L699.1 533.9L702.7 526.8L706.5 519.4L710.4 511.8L714.5 503.9L718.7 495.9L723.0 487.5L727.5 478.9L732.2 470.0L737.0 460.7L742.1 451.1M664.8 642.2L667.0 637.5L669.3 632.7L671.6 627.8L674.0 622.9L676.4 617.8L678.9 612.6L681.4 607.4L684.0 602.0L686.7 596.5L689.4 590.9L692.2 585.1L695.1 579.3L698.0 573.3L701.1 567.1L704.2 560.8L707.4 554.3L710.7 547.7L714.1 540.9L717.5 533.9L721.1 526.8L724.9 519.4L728.7 511.8L732.7 503.9L736.8 495.9L741.1 487.5L745.5 478.9L750.1 470.0L754.9 460.7L759.8 451.1" stroke="#1e90ff" stroke-opacity="0.85" stroke-width="1.67" stroke-dasharray="1.67 2.75"/>
<path d="M90.5 36.5H753.5M90.5 215.5H753.5M90.5 319.5H753.5M90.5 393.5H753.5M90.5 451.5H753.5M90.5 498.5H753.5M90.5 537.5H753.5M90.5 572.5H753.5M90.5 602.5H753.5M90.5 629.5H753.5" stroke="#b0b0b0" stroke-width="1.33"/>
<path d="M-572.65 642.16L32.71 36.80M-498.99 642.16L106.37 36.80M-425.34 642.16L180.02 36.80M-351.68 642.16L253.68 36.80M-278.03 642.16L327.33 36.80M-204.37 642.16L400.99 36.80M-130.72 642.16L474.64 36.80M-57.06 642.16L548.30 36.80M16.59 642.16L621.96 36.80M90.25 642.16L695.61 36.80M163.91 642.16L769.27 36.80M237.56 642.16L842.92 36.80M311.22 642.16L916.58 36.80M384.87 642.16L990.23 36.80M458.53 642.16L1063.89 36.80M532.18 642.16L1137.54 36.80M605.84 642.16L1211.20 36.80M679.49 642.16L1284.86 36.80M753.15 642.16L1358.51 36.80" stroke="#a0a0a0" stroke-width="1.28"/>
<path d="M406.4 36.5C406.6 37.2 407.2 39.4 407.1 41.0C407.0 42.6 406.7 44.3 406.1 46.1C405.4 48.0 404.6 49.9 403.2 51.9C401.9 54.0 400.0 56.2 398.1 58.4C396.1 60.5 393.7 62.8 391.6 64.8C389.6 66.9 387.3 69.0 385.8 70.7C384.3 72.3 384.0 72.8 382.6 74.5C381.2 76.2 378.9 78.9 377.4 81.0C376.0 83.0 374.6 84.5 373.8 86.8C373.1 89.0 372.9 91.5 372.9 94.5C372.9 97.5 373.4 102.3 373.8 104.8C374.2 107.4 374.3 107.4 375.1 110.0C375.9 112.6 377.5 116.9 378.7 120.3C380.0 123.8 381.5 127.7 382.6 130.7C383.7 133.6 384.5 135.6 385.4 137.7C386.4 139.9 387.5 141.3 388.4 143.6C389.3 145.8 390.2 148.7 391.0 151.3C391.7 153.9 392.3 156.2 392.9 159.0C393.5 161.8 394.2 165.3 394.8 168.1C395.5 170.9 396.0 173.2 396.8 175.8C397.6 178.4 398.6 181.2 399.6 183.6C400.6 185.9 401.3 186.8 402.9 190.0C404.5 193.2 407.1 198.6 409.4 202.9C411.6 207.2 414.0 211.3 416.4 215.8C418.9 220.3 421.8 225.9 424.1 230.0C426.4 234.1 428.1 236.9 430.3 240.3C432.6 243.8 435.1 247.2 437.6 250.7C440.0 254.1 442.4 257.5 444.8 261.0C447.2 264.4 449.5 267.7 452.0 271.3C454.5 274.9 457.3 279.2 459.7 282.6C462.1 286.1 464.9 289.7 466.4 291.9C468.0 294.2 467.8 294.4 469.0 296.0C470.1 297.6 471.9 299.6 473.2 301.4C474.6 303.2 476.0 305.2 477.1 306.8C478.2 308.5 479.1 309.8 479.8 311.1C480.5 312.4 480.8 313.4 481.1 314.6C481.4 315.8 481.6 317.2 481.6 318.4C481.6 319.7 481.3 321.0 481.1 322.3C481.0 323.6 480.7 324.9 480.7 326.2C480.7 327.5 480.8 328.6 481.1 330.1C481.4 331.5 481.9 333.0 482.5 334.7C483.1 336.4 483.8 338.0 484.8 340.1C485.9 342.3 487.9 345.8 488.9 347.6C489.9 349.3 489.9 349.2 490.8 350.6C491.7 352.1 493.0 354.1 494.3 356.1C495.6 358.0 497.1 360.3 498.6 362.3C500.1 364.3 501.7 366.1 503.2 368.1C504.8 370.0 506.3 372.0 507.9 373.9C509.4 375.7 511.0 377.5 512.5 379.3C514.1 381.0 515.6 382.6 517.2 384.3C518.7 386.0 520.4 387.7 521.8 389.4C523.2 391.0 524.6 392.8 525.7 394.4C526.8 396.0 527.4 397.6 528.2 398.9C529.0 400.2 529.5 400.6 530.5 402.2C531.6 403.8 533.5 406.4 534.8 408.4C536.2 410.4 537.5 412.4 538.7 414.2C539.9 416.0 541.1 417.6 542.2 419.2C543.2 420.8 544.1 422.3 544.9 423.9C545.6 425.4 546.4 427.0 546.8 428.5C547.3 430.1 547.5 431.6 547.6 433.2C547.7 434.7 547.6 435.9 547.4 437.8C547.2 439.7 546.7 442.7 546.5 444.6C546.4 446.6 546.6 447.7 546.7 449.3C546.9 450.8 547.1 452.4 547.5 453.9C547.9 455.5 548.4 457.0 549.0 458.6C549.6 460.1 550.3 461.7 551.0 463.2C551.6 464.7 552.3 466.2 552.9 467.5C553.5 468.8 554.1 469.9 554.5 471.0C554.8 472.1 555.1 472.9 555.2 474.1C555.3 475.2 555.4 476.5 555.2 477.9C555.0 479.4 554.6 481.0 554.1 482.6C553.5 484.1 552.6 485.7 551.7 487.2C550.9 488.7 549.9 490.0 549.0 491.5C548.2 493.0 547.5 494.6 546.7 496.2C545.8 497.8 544.5 499.6 544.0 500.8C543.4 502.1 543.3 502.7 543.4 503.6C543.4 504.4 543.5 505.0 544.4 505.9C545.2 506.8 546.3 507.6 548.2 509.0C550.2 510.3 553.4 512.3 556.0 514.0C558.6 515.7 561.8 517.7 563.7 519.0C565.6 520.3 566.4 520.9 567.2 521.7C568.0 522.6 568.4 523.2 568.5 524.1C568.6 525.0 568.5 525.9 568.0 527.2C567.4 528.5 565.9 530.4 565.3 531.8C564.6 533.2 564.2 534.6 564.1 535.7C564.0 536.7 564.4 537.1 564.8 538.1C565.2 539.1 566.1 540.8 566.5 542.0C567.0 543.1 567.2 543.9 567.3 545.1C567.4 546.2 567.4 547.5 567.2 548.9C566.9 550.4 566.4 552.0 566.0 553.6C565.6 555.1 565.2 556.8 564.8 558.2C564.5 559.6 564.1 560.9 563.9 562.1C563.7 563.3 563.7 564.2 563.8 565.2C564.0 566.2 564.2 567.3 564.7 568.3C565.1 569.3 565.9 570.4 566.5 571.4C567.1 572.4 567.9 573.5 568.3 574.5C568.7 575.4 568.9 576.3 568.9 577.2C568.9 578.1 568.8 578.9 568.3 579.9C567.8 580.9 567.0 582.0 566.0 583.0C565.0 584.0 563.7 585.1 562.5 586.1C561.4 587.1 560.0 587.7 559.0 589.0C558.0 590.4 557.4 592.5 556.6 594.0C555.8 595.5 555.4 596.8 554.3 598.0C553.3 599.3 551.7 600.7 550.3 601.6C548.8 602.6 546.8 602.9 545.8 603.5C544.7 604.1 544.0 604.7 543.7 605.3C543.3 605.9 543.4 606.4 543.7 607.1C543.9 607.7 544.8 608.5 545.3 609.3C545.8 610.2 546.4 611.0 546.6 612.0C546.9 613.1 546.7 614.3 546.7 615.6C546.8 617.0 546.6 618.7 546.9 620.2C547.2 621.6 547.8 623.0 548.5 624.2C549.2 625.5 550.3 626.9 551.2 627.9C552.1 628.8 553.4 629.7 553.9 630.1" stroke="#ff0000" stroke-width="2.5" stroke-linejoin="round" stroke-linecap="butt"/>
<path d="M392.9 36.5C392.1 37.5 389.7 40.3 388.4 42.9C387.1 45.5 386.0 48.7 385.2 51.9C384.3 55.2 383.7 58.6 383.2 62.3C382.8 65.9 383.5 70.8 382.6 73.9C381.6 77.0 378.9 78.8 377.4 81.0C376.0 83.1 374.6 84.5 373.8 86.8C373.1 89.0 372.9 91.5 372.9 94.5C372.9 97.5 373.4 102.3 373.8 104.8C374.2 107.4 374.3 107.4 375.1 110.0C375.9 112.6 377.5 116.9 378.7 120.3C380.0 123.8 381.5 127.4 382.6 130.7C383.7 133.9 384.6 136.7 385.4 139.7C386.2 142.7 387.1 146.1 387.5 148.7C387.9 151.3 388.1 153.0 388.0 155.2C387.9 157.3 387.5 159.5 386.7 161.6C385.9 163.8 384.6 165.7 383.2 168.1C381.9 170.4 380.1 173.2 378.7 175.8C377.3 178.4 375.7 181.4 374.8 183.6C373.9 185.7 373.5 187.6 373.3 188.7C373.1 189.8 373.1 189.1 373.6 190.0C374.0 190.9 375.4 192.5 376.1 193.9C376.8 195.3 377.5 196.9 377.8 198.4C378.1 199.9 378.2 201.1 378.1 202.9C378.0 204.7 377.7 207.2 377.2 209.3C376.6 211.5 375.8 213.8 374.8 215.8C373.9 217.9 373.1 219.5 371.6 221.6C370.1 223.8 367.9 226.2 365.8 228.7C363.8 231.2 361.5 233.8 359.4 236.4C357.2 239.1 355.0 241.9 352.9 244.8C350.8 247.7 348.6 250.8 346.4 253.9C344.3 257.0 341.7 260.9 340.0 263.6C338.3 266.2 337.7 267.3 336.1 270.0C334.5 272.7 332.4 276.7 330.3 279.7C328.3 282.7 325.9 285.5 323.9 288.1C321.8 290.6 319.7 293.1 318.1 295.2C316.4 297.2 315.0 298.6 314.2 300.3C313.4 302.0 313.0 303.7 313.0 305.5C313.0 307.3 313.6 309.2 314.2 311.3C314.8 313.3 315.6 315.7 316.8 317.7C318.0 319.8 319.4 321.4 321.3 323.6C323.2 325.7 325.8 328.4 328.4 330.6C331.0 332.9 333.9 335.3 336.8 337.1C339.7 338.9 343.0 340.1 345.8 341.4C348.6 342.6 351.4 343.5 353.6 344.8C355.7 346.2 357.6 348.4 358.7 349.4C359.8 350.3 359.8 349.9 360.3 350.6C360.8 351.4 361.5 352.7 361.9 353.9C362.2 355.1 362.6 356.3 362.3 357.7C361.9 359.1 361.1 360.6 359.7 362.3C358.3 363.9 356.1 365.6 353.9 367.4C351.6 369.2 348.9 371.4 346.1 373.0C343.3 374.6 340.3 375.8 337.1 377.1C333.9 378.4 330.4 379.7 326.8 381.0C323.1 382.2 319.0 383.4 315.2 384.6C311.3 385.7 306.9 386.6 303.6 387.8C300.2 389.1 297.4 391.1 295.0 392.1C292.6 393.1 291.1 393.3 289.3 394.1C287.5 394.9 285.6 395.8 284.2 396.7C282.8 397.6 281.9 398.7 281.1 399.8C280.3 400.9 280.3 402.3 279.5 403.4C278.7 404.5 277.9 405.6 276.4 406.5C274.9 407.4 272.8 408.2 270.7 409.1C268.6 410.0 265.9 410.9 263.5 411.7C261.1 412.5 259.2 413.1 256.3 413.9C253.4 414.7 249.4 415.6 246.0 416.4C242.6 417.2 239.0 418.0 235.6 418.7C232.2 419.4 228.7 420.1 225.3 420.7C221.9 421.3 218.1 421.9 215.0 422.3C211.9 422.8 209.7 423.0 206.6 423.4C203.5 423.8 199.7 424.3 196.3 424.7C192.9 425.1 189.5 425.6 186.0 426.0C182.5 426.4 178.4 426.9 175.5 427.3C172.6 427.7 170.1 428.3 168.4 428.6C166.7 428.9 166.0 429.1 165.3 429.4C164.6 429.6 164.1 429.8 164.2 430.1C164.2 430.4 164.5 430.7 165.6 431.0C166.7 431.3 168.8 431.8 170.5 432.1C172.2 432.4 172.1 432.4 175.5 432.9C178.9 433.4 185.8 434.5 191.0 435.2C196.2 435.9 201.7 436.6 206.5 437.2C211.3 437.8 215.2 438.1 220.0 438.7C224.8 439.3 231.3 440.1 235.6 440.6C239.9 441.1 242.6 441.4 246.0 441.8C249.4 442.2 252.9 442.7 256.3 443.2C259.7 443.7 263.2 444.1 266.6 444.7C270.0 445.3 273.4 445.9 276.9 446.6C280.3 447.3 284.3 448.1 287.3 448.8C290.3 449.5 292.9 449.9 295.0 450.9C297.1 451.9 299.3 453.7 299.9 455.0C300.6 456.3 299.9 457.6 299.0 458.9C298.1 460.2 296.6 461.7 294.5 462.7C292.5 463.8 290.0 464.5 286.8 465.3C283.5 466.1 279.2 466.9 275.2 467.6C271.1 468.4 266.6 469.1 262.3 469.8C258.0 470.6 253.4 471.3 249.3 472.0C245.3 472.7 241.0 473.4 237.7 474.0C234.5 474.6 231.5 475.2 230.0 475.6C228.5 476.1 227.4 476.1 228.4 476.4C229.5 476.7 233.0 477.2 236.4 477.6C239.9 478.0 244.0 478.4 249.3 478.9C254.7 479.3 262.3 479.9 268.7 480.4C275.2 480.9 281.6 481.3 288.1 481.7C294.5 482.1 300.4 482.5 307.4 483.0C314.4 483.5 323.6 484.0 330.0 484.4C336.4 484.8 338.9 484.9 345.8 485.4C352.7 485.9 363.0 486.8 371.6 487.5C380.2 488.1 389.4 488.8 397.4 489.4C405.5 490.1 412.4 490.7 420.0 491.4C427.6 492.0 434.6 492.5 442.9 493.5C451.2 494.4 464.2 496.3 470.0 497.0C475.8 497.7 475.2 497.4 477.7 497.8C480.3 498.1 482.9 498.6 485.5 499.1C488.1 499.5 490.6 500.0 493.2 500.5C495.8 501.0 498.6 501.6 501.0 502.2C503.3 502.8 505.4 503.4 507.2 504.0C509.0 504.6 510.6 505.3 511.8 505.9C513.0 506.5 513.8 507.3 514.3 507.8C514.8 508.4 514.9 508.8 514.9 509.4C514.9 510.0 514.8 510.6 514.1 511.3C513.5 512.0 512.4 512.9 511.0 513.6C509.6 514.4 507.5 515.3 505.6 516.0C503.7 516.7 501.5 517.3 499.4 517.9C497.4 518.5 495.0 519.3 493.2 519.8C491.4 520.4 489.7 520.9 488.6 521.4C487.5 521.9 486.9 522.4 486.6 522.9C486.4 523.4 486.5 523.9 486.9 524.5C487.3 525.1 487.9 525.8 489.0 526.4C490.0 527.1 491.6 527.7 493.2 528.4C494.8 529.0 497.0 529.6 498.6 530.3C500.3 531.0 501.9 531.6 503.3 532.6C504.6 533.6 506.1 535.1 506.8 536.2C507.4 537.2 507.1 538.0 507.0 538.9C506.9 539.8 506.3 540.8 506.2 541.6C506.2 542.5 506.2 543.1 506.8 543.9C507.3 544.8 508.8 545.6 509.5 546.6C510.2 547.7 510.6 548.9 510.9 550.1C511.2 551.4 511.3 552.8 511.4 554.0C511.6 555.2 511.8 555.9 511.8 557.1C511.8 558.3 511.7 559.8 511.4 561.0C511.1 562.1 510.8 563.0 509.9 564.1C509.0 565.1 507.5 566.2 506.0 567.2C504.5 568.1 502.7 569.0 501.0 569.9C499.2 570.7 497.1 571.5 495.6 572.2C494.0 572.9 492.6 573.5 491.7 574.1C490.8 574.8 490.2 575.3 490.0 576.1C489.8 576.8 489.8 577.8 490.5 578.4C491.2 579.0 492.6 579.3 494.1 579.8C495.6 580.2 497.3 580.6 499.4 581.1C501.4 581.6 504.1 582.4 506.3 583.0C508.5 583.7 511.0 584.5 512.5 585.1C514.0 585.8 514.8 586.3 515.5 586.9C516.1 587.5 516.3 588.1 516.2 588.8C516.1 589.6 515.6 590.4 514.8 591.2C514.1 591.9 512.7 592.8 511.7 593.5C510.8 594.2 509.6 594.8 509.0 595.4C508.4 596.1 508.3 596.6 508.3 597.4C508.2 598.1 508.4 599.2 508.6 600.1C508.9 601.0 509.5 601.9 509.6 602.8C509.6 603.6 509.3 604.3 509.0 605.1C508.7 605.9 508.0 607.0 507.7 607.8C507.4 608.6 506.9 609.4 507.1 610.1C507.3 610.9 507.7 611.5 508.6 612.5C509.5 613.4 511.1 614.6 512.5 615.5C513.9 616.5 515.6 617.4 517.2 618.3C518.7 619.2 520.4 620.0 521.8 621.0C523.2 621.9 524.6 623.0 525.7 624.1C526.7 625.1 527.4 626.1 528.0 627.2C528.6 628.3 529.0 630.1 529.2 630.6" stroke="#008000" stroke-width="2.5" stroke-linejoin="round" stroke-linecap="butt"/>
</g>
<g clip-path="url(#c)" font-family="DejaVu Sans, Liberation Sans, sans-serif" font-weight="bold" font-size="13.33" text-anchor="middle">
<text transform="translate(223.2 440.5) rotate(-30) translate(0 3.5) scale(0.98 0.98)" fill="#1e90ff">0.1</text>
<text transform="translate(270.1 440.5) rotate(-30) translate(0 3.5) scale(0.98 0.98)" fill="#1e90ff">0.2</text>
<text transform="translate(320.0 440.5) rotate(-30) translate(0 3.5) scale(0.98 0.98)" fill="#1e90ff">0.4</text>
<text transform="translate(350.9 440.5) rotate(-30) translate(0 3.5) scale(0.98 0.98)" fill="#1e90ff">0.6</text>
<text transform="translate(391.5 444.1) rotate(-30) translate(0 3.5) scale(0.98 0.98)" fill="#1e90ff">1</text>
<text transform="translate(425.2 440.5) rotate(-30) translate(0 3.5) scale(0.98 0.98)" fill="#1e90ff">1.5</text>
<text transform="translate(450.0 444.1) rotate(-30) translate(0 3.5) scale(0.98 0.98)" fill="#1e90ff">2</text>
<text transform="translate(486.2 444.1) rotate(-30) translate(0 3.5) scale(0.98 0.98)" fill="#1e90ff">3</text>
<text transform="translate(512.8 444.1) rotate(-30) translate(0 3.5) scale(0.98 0.98)" fill="#1e90ff">4</text>
<text transform="translate(551.6 444.1) rotate(-30) translate(0 3.5) scale(0.98 0.98)" fill="#1e90ff">6</text>
<text transform="translate(580.2 444.1) rotate(-30) translate(0 3.5) scale(0.98 0.98)" fill="#1e90ff">8</text>
<text transform="translate(602.9 441.8) rotate(-30) translate(0 3.5) scale(0.98 0.98)" fill="#1e90ff">10</text>
<text transform="translate(630.2 441.8) rotate(-30) translate(0 3.5) scale(0.98 0.98)" fill="#1e90ff">13</text>
<text transform="translate(652.3 441.8) rotate(-30) translate(0 3.5) scale(0.98 0.98)" fill="#1e90ff">16</text>
<text transform="translate(676.6 441.8) rotate(-30) translate(0 3.5) scale(0.98 0.98)" fill="#1e90ff">20</text>
<text transform="translate(701.2 441.8) rotate(-30) translate(0 3.5) scale(0.98 0.98)" fill="#1e90ff">25</text>
<text transform="translate(721.7 441.8) rotate(-30) translate(0 3.5) scale(0.98 0.98)" fill="#1e90ff">30</text>
<text transform="translate(742.5 441.8) rotate(-30) translate(0 3.5) scale(0.98 0.98)" fill="#1e90ff">36</text>
<text transform="translate(760.2 441.8) rotate(-30) translate(0 3.5) scale(0.98 0.98)" fill="#1e90ff">42</text>
<text transform="translate(236.5 54.7) rotate(-45) translate(0 3.5) scale(0.98 0.98)" fill="#1f77b4">-100</text>
<text transform="translate(259.6 105.3) rotate(-45) translate(0 3.5) scale(0.98 0.98)" fill="#1f77b4">-90</text>
<text transform="translate(285.4 153.2) rotate(-45) translate(0 3.5) scale(0.98 0.98)" fill="#1f77b4">-80</text>
<text transform="translate(313.5 198.7) rotate(-45) translate(0 3.5) scale(0.98 0.98)" fill="#1f77b4">-70</text>
<text transform="translate(343.9 242.0) rotate(-45) translate(0 3.5) scale(0.98 0.98)" fill="#1f77b4">-60</text>
<text transform="translate(376.2 283.3) rotate(-45) translate(0 3.5) scale(0.98 0.98)" fill="#1f77b4">-50</text>
<text transform="translate(410.4 322.8) rotate(-45) translate(0 3.5) scale(0.98 0.98)" fill="#1f77b4">-40</text>
<text transform="translate(446.2 360.7) rotate(-45) translate(0 3.5) scale(0.98 0.98)" fill="#1f77b4">-30</text>
<text transform="translate(483.5 397.0) rotate(-45) translate(0 3.5) scale(0.98 0.98)" fill="#1f77b4">-20</text>
<text transform="translate(522.3 431.9) rotate(-45) translate(0 3.5) scale(0.98 0.98)" fill="#1f77b4">-10</text>
<text transform="translate(562.3 465.5) rotate(-45) translate(0 3.5) scale(0.98 0.98)" fill="#7f7f7f">0</text>
<text transform="translate(603.6 497.9) rotate(-45) translate(0 3.5) scale(0.98 0.98)" fill="#d62728">10</text>
<text transform="translate(646.0 529.2) rotate(-45) translate(0 3.5) scale(0.98 0.98)" fill="#d62728">20</text>
<text transform="translate(689.4 559.4) rotate(-45) translate(0 3.5) scale(0.98 0.98)" fill="#d62728">30</text>
<text transform="translate(733.8 588.6) rotate(-45) translate(0 3.5) scale(0.98 0.98)" fill="#d62728">40</text>
</g>
<rect x="90.5" y="36.5" width="663.0" height="606.0" fill="none" stroke="#000" stroke-width="1.33"/>
<path d="M90.5 642.5v5.83M164.5 642.5v5.83M238.5 642.5v5.83M311.5 642.5v5.83M385.5 642.5v5.83M459.5 642.5v5.83M532.5 642.5v5.83M606.5 642.5v5.83M679.5 642.5v5.83M753.5 642.5v5.83M90.5 36.5h-5.83M90.5 215.5h-5.83M90.5 319.5h-5.83M90.5 393.5h-5.83M90.5 451.5h-5.83M90.5 498.5h-5.83M90.5 537.5h-5.83M90.5 572.5h-5.83M90.5 602.5h-5.83M90.5 629.5h-5.83" stroke="#000" stroke-width="1.33" fill="none"/>
<g font-family="DejaVu Sans, Liberation Sans, sans-serif" font-size="16.67" fill="#000">
<text transform="translate(90.50 668.00) scale(0.97 1.07)" text-anchor="middle">−40</text>
<text transform="translate(164.50 668.00) scale(0.97 1.07)" text-anchor="middle">−30</text>
<text transform="translate(237.50 668.00) scale(0.97 1.07)" text-anchor="middle">−20</text>
<text transform="translate(311.50 668.00) scale(0.97 1.07)" text-anchor="middle">−10</text>
<text transform="translate(385.50 668.00) scale(0.97 1.07)" text-anchor="middle">0</text>
<text transform="translate(458.50 668.00) scale(0.97 1.07)" text-anchor="middle">10</text>
<text transform="translate(532.50 668.00) scale(0.97 1.07)" text-anchor="middle">20</text>
<text transform="translate(606.50 668.00) scale(0.97 1.07)" text-anchor="middle">30</text>
<text transform="translate(679.50 668.00) scale(0.97 1.07)" text-anchor="middle">40</text>
<text transform="translate(753.50 668.00) scale(0.97 1.07)" text-anchor="middle">50</text>
<text transform="translate(78.60 44.00) scale(0.97 1.07)" text-anchor="end">100</text>
<text transform="translate(78.60 222.00) scale(0.97 1.07)" text-anchor="end">200</text>
<text transform="translate(78.60 327.00) scale(0.97 1.07)" text-anchor="end">300</text>
<text transform="translate(78.60 401.00) scale(0.97 1.07)" text-anchor="end">400</text>
<text transform="translate(78.60 458.00) scale(0.97 1.07)" text-anchor="end">500</text>
<text transform="translate(78.30 505.00) scale(0.97 1.07)" text-anchor="end">600</text>
<text transform="translate(78.30 545.00) scale(0.97 1.07)" text-anchor="end">700</text>
<text transform="translate(78.30 579.00) scale(0.97 1.07)" text-anchor="end">800</text>
<text transform="translate(78.30 609.00) scale(0.97 1.07)" text-anchor="end">900</text>
<text transform="translate(79.50 637.00) scale(0.97 1.07)" text-anchor="end">1000</text>
<text transform="translate(421.70 693.00) scale(1.0 1.07)" text-anchor="middle">Temperature (°C)</text>
<text transform="translate(25.50 339.48) rotate(-90) scale(1.0 1.07)" text-anchor="middle">Pressure (hPa)</text>
<text transform="translate(422.10 26.50) scale(0.997 1.03)" text-anchor="middle" font-size="20">wetPf2_C2E6.2025.306.19.33.R21</text>
</g>
</svg>
</body></html>
